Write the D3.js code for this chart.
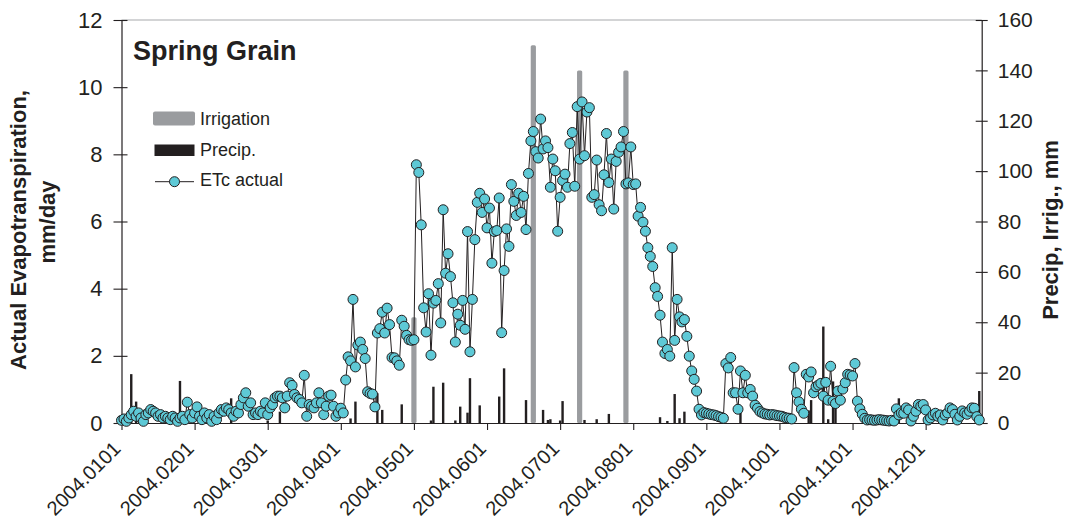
<!DOCTYPE html>
<html>
<head>
<meta charset="utf-8">
<script src="https://cdn.jsdelivr.net/npm/d3@7"></script>
<style>
  html, body { margin: 0; padding: 0; background: #ffffff; }
  svg { display: block; }
  text { font-family: "Liberation Sans", Arial, Helvetica, sans-serif; fill: #231f20; }
</style>
</head>
<body>
<svg id="chart" width="1065" height="529"></svg>
<script>
// Month labels placed every 30 daily records along the bottom axis
const monthLabels = ["2004.0101", "2004.0201", "2004.0301", "2004.0401", "2004.0501", "2004.0601",
                     "2004.0701", "2004.0801", "2004.0901", "2004.1001", "2004.1101", "2004.1201"];
const monthTickIndex = [0, 30, 60, 90, 120, 150, 180, 210, 240, 270, 300, 330];

// Daily actual crop evapotranspiration (mm/day), one value per record
const etcActual = [
  0.08, 0.12, 0.05, 0.15, 0.25, 0.35, 0.2, 0.3, 0.15, 0.05,
  0.25, 0.3, 0.4, 0.35, 0.3, 0.2, 0.25, 0.15, 0.2, 0.15,
  0.1, 0.2, 0.15, 0.05, 0.15, 0.2, 0.1, 0.62, 0.25, 0.15,
  0.3, 0.48, 0.2, 0.1, 0.3, 0.15, 0.25, 0.05, 0.2, 0.1,
  0.3, 0.4, 0.35, 0.45, 0.4, 0.3, 0.2, 0.35, 0.3, 0.55,
  0.75, 0.9, 0.5, 0.6, 0.25, 0.3, 0.25, 0.35, 0.3, 0.6,
  0.25, 0.45, 0.55, 0.75, 0.8, 0.8, 0.75, 0.45, 0.8, 1.2,
  1.12, 0.85, 0.75, 0.7, 0.6, 1.42, 0.2, 0.55, 0.5, 0.45,
  0.6, 0.9, 0.6, 0.25, 0.5, 0.8, 0.83, 0.5, 0.2, 0.3,
  0.44, 0.3, 1.28, 1.97, 1.85, 3.68, 1.67, 2.32, 2.41, 2.19,
  1.92, 0.93, 0.88, 0.86, 0.48, 2.68, 2.81, 3.3, 2.68, 3.42,
  2.93, 1.95, 1.94, 1.85, 1.72, 3.06, 2.88, 2.61, 2.48, 2.46,
  2.48, 7.69, 7.46, 5.9, 3.43, 2.71, 3.85, 2.02, 3.57, 3.65,
  4.15, 2.98, 6.35, 4.46, 5.04, 4.36, 3.58, 2.41, 3.24, 2.91,
  3.65, 2.79, 5.7, 2.12, 3.68, 5.46, 6.57, 6.84, 6.27, 6.67,
  5.81, 6.4, 4.76, 5.7, 5.73, 6.7, 2.69, 4.54, 5.78, 5.26,
  7.1, 6.6, 6.18, 6.84, 6.27, 6.75, 5.76, 7.43, 8.4, 8.68,
  8.08, 7.89, 9.05, 8.16, 8.4, 8.2, 7.02, 7.86, 7.51, 5.71,
  6.72, 7.22, 7.41, 7.02, 8.32, 8.65, 7.05, 9.42, 7.86, 9.56,
  7.96, 9.26, 9.39, 6.72, 6.8, 7.83, 6.5, 6.32, 7.39, 8.62,
  7.16, 7.86, 6.37, 7.79, 8.06, 8.22, 8.68, 7.12, 7.15, 8.22,
  7.1, 7.12, 6.16, 6.42, 5.98, 5.71, 5.22, 4.96, 4.66, 4.03,
  3.77, 3.21, 2.41, 2.07, 2.19, 1.99, 5.22, 2.46, 3.68, 3.16,
  3.01, 3.08, 2.58, 1.99, 1.55, 1.3, 0.95, 0.41, 0.24, 0.31,
  0.29, 0.27, 0.25, 0.24, 0.22, 0.19, 0.17, 0.14, 1.77, 1.64,
  1.95, 0.9, 0.9, 0.41, 1.55, 0.9, 1.42, 0.9, 1.0, 0.8,
  0.53, 0.44, 0.34, 0.3, 0.27, 0.26, 0.24, 0.25, 0.24, 0.22,
  0.21, 0.2, 0.17, 0.15, 0.14, 0.12, 1.65, 0.9, 0.63, 0.41,
  0.29, 1.45, 1.37, 1.52, 0.9, 1.08, 1.13, 1.18, 0.8, 1.21,
  0.68, 1.69, 0.65, 0.58, 0.95, 0.68, 1.01, 1.2, 1.45, 1.43,
  1.4, 1.77, 0.65, 0.42, 0.26, 0.14, 0.09, 0.1, 0.09, 0.08,
  0.09, 0.1, 0.09, 0.08, 0.07, 0.06, 0.08, 0.06, 0.42, 0.24,
  0.3, 0.29, 0.45, 0.39, 0.06, 0.2, 0.35, 0.55, 0.5, 0.55,
  0.39, 0.09, 0.15, 0.24, 0.29, 0.2, 0.24, 0.09, 0.24, 0.3,
  0.45, 0.4, 0.26, 0.09, 0.2, 0.36, 0.3, 0.26, 0.35, 0.45,
  0.44, 0.19, 0.09
];

// Precipitation events: record index and depth (mm)
const precipDay = [4, 6, 24, 45, 60, 65, 94, 96, 105, 107, 115, 127, 128, 132, 137, 139, 142, 143, 147,
                   155, 157, 166, 173, 175, 176, 180, 181, 190, 195, 200, 221, 224, 227, 229, 231, 254,
                   282, 283, 288, 290, 292, 293, 319, 352];
const precipMm  = [19.4, 8.5, 16.7, 9.8, 1.0, 4.5, 1.8, 8.5, 11.8, 5.2, 7.4, 1.0, 14.4, 16.0, 1.0, 6.5, 4.1, 17.8, 7.0,
                   10.5, 21.7, 9.1, 5.2, 1.2, 1.5, 1.0, 8.7, 1.2, 1.5, 3.6, 2.3, 0.8, 11.5, 1.9, 4.5, 6.5,
                   5.0, 9.1, 38.3, 1.5, 16.5, 8.0, 9.8, 12.7];

// Irrigation applications: record index and depth (mm)
const irrigDay = [120, 169, 188, 207];
const irrigMm  = [42, 150, 140, 140];

const etTicks = [0, 2, 4, 6, 8, 10, 12];
const depthTicks = [0, 20, 40, 60, 80, 100, 120, 140, 160];

const ink = "#231f20";
const cyan = "#5ec9d6";
const irrigGray = "#9a9c9f";
const markerR = 5;

const svg = d3.select("#chart");
svg.append("rect").attr("width", 1065).attr("height", 529).attr("fill", "#ffffff");

const plotLeft = 121.5, plotRight = 981.7, plotTop = 20, plotBottom = 423;
const x = d3.scaleLinear().domain([0, 353]).range([plotLeft, plotRight]);
const yET = d3.scaleLinear().domain([0, 12]).range([plotBottom, plotTop]);
const yMM = d3.scaleLinear().domain([0, 160]).range([plotBottom, plotTop]);

// top frame line
svg.append("line")
  .attr("x1", plotLeft).attr("x2", plotRight).attr("y1", plotTop).attr("y2", plotTop)
  .attr("stroke", "#a7a9ac").attr("stroke-width", 1);

// irrigation bars
svg.append("g").selectAll("rect")
  .data(irrigDay.map((d, i) => ({ day: d, mm: irrigMm[i] })))
  .join("rect")
  .attr("x", d => x(d.day) - 2.6)
  .attr("width", 5.2)
  .attr("y", d => yMM(d.mm))
  .attr("height", d => yMM(0) - yMM(d.mm))
  .attr("rx", 1.5)
  .attr("fill", irrigGray);

// precipitation bars
svg.append("g").selectAll("rect")
  .data(precipDay.map((d, i) => ({ day: d, mm: precipMm[i] })))
  .join("rect")
  .attr("x", d => x(d.day) - 1.2)
  .attr("width", 2.4)
  .attr("y", d => yMM(d.mm))
  .attr("height", d => yMM(0) - yMM(d.mm))
  .attr("fill", ink);

// left axis with crossing ticks
const gL = svg.append("g").attr("transform", `translate(${plotLeft},0)`)
  .call(d3.axisLeft(yET).tickValues(etTicks).tickSizeInner(8).tickSizeOuter(0).tickPadding(11));
gL.select(".domain").attr("stroke", ink).attr("stroke-width", 1.2);
gL.selectAll(".tick line").attr("x1", 6).attr("stroke", ink).attr("stroke-width", 1.1);
gL.selectAll(".tick text").attr("font-size", 22).attr("fill", ink)
  .attr("font-family", "Liberation Sans, Arial, sans-serif");

// right axis with crossing ticks
const gR = svg.append("g").attr("transform", `translate(${plotRight},0)`)
  .call(d3.axisRight(yMM).tickValues(depthTicks).tickSizeInner(6).tickSizeOuter(0).tickPadding(10));
gR.select(".domain").attr("stroke", ink).attr("stroke-width", 1.2);
gR.selectAll(".tick line").attr("x1", -6).attr("stroke", ink).attr("stroke-width", 1.1);
gR.selectAll(".tick text").attr("font-size", 21).attr("fill", ink)
  .attr("font-family", "Liberation Sans, Arial, sans-serif");

// bottom axis: month ticks with slanted labels
const gB = svg.append("g").attr("transform", `translate(0,${plotBottom})`)
  .call(d3.axisBottom(x).tickValues(monthTickIndex).tickSizeInner(7).tickSizeOuter(0)
    .tickFormat((d, i) => monthLabels[i]));
gB.select(".domain").attr("stroke", ink).attr("stroke-width", 1.2);
gB.selectAll(".tick line").attr("stroke", ink).attr("stroke-width", 1.1);
gB.selectAll(".tick text")
  .attr("font-size", 20).attr("fill", ink)
  .attr("font-family", "Liberation Sans, Arial, sans-serif")
  .attr("text-anchor", "end")
  .attr("y", 0).attr("dy", "0.35em")
  .attr("transform", "translate(-5,22) rotate(-45)");

// ETc line and markers
const line = d3.line().x((d, i) => x(i)).y(d => yET(d));
svg.append("path").datum(etcActual)
  .attr("d", line).attr("fill", "none").attr("stroke", ink).attr("stroke-width", 1);
svg.append("g").selectAll("circle")
  .data(etcActual).join("circle")
  .attr("cx", (d, i) => x(i)).attr("cy", d => yET(d)).attr("r", markerR)
  .attr("fill", cyan).attr("stroke", ink).attr("stroke-width", 1);

// title
svg.append("text").attr("x", 133).attr("y", 60)
  .attr("font-size", 27).attr("font-weight", "bold").text("Spring Grain");

// legend
const lg = svg.append("g");
lg.append("rect").attr("x", 153).attr("y", 111.5).attr("width", 42).attr("height", 14).attr("rx", 2)
  .attr("fill", irrigGray);
lg.append("rect").attr("x", 154.5).attr("y", 144.5).attr("width", 40).attr("height", 11.5)
  .attr("fill", ink);
lg.append("line").attr("x1", 155).attr("x2", 194).attr("y1", 181.7).attr("y2", 181.7)
  .attr("stroke", ink).attr("stroke-width", 1);
lg.append("circle").attr("cx", 174.5).attr("cy", 181.7).attr("r", markerR)
  .attr("fill", cyan).attr("stroke", ink).attr("stroke-width", 1);
lg.append("text").attr("x", 200).attr("y", 125).attr("font-size", 18).text("Irrigation");
lg.append("text").attr("x", 200).attr("y", 156).attr("font-size", 18).text("Precip.");
lg.append("text").attr("x", 200).attr("y", 186).attr("font-size", 18).text("ETc actual");

// axis titles
svg.append("text")
  .attr("transform", "translate(18,230) rotate(-90)")
  .attr("text-anchor", "middle").attr("dy", "0.35em")
  .attr("font-size", 22).attr("font-weight", "bold")
  .text("Actual Evapotranspiration,");
svg.append("text")
  .attr("transform", "translate(47,222) rotate(-90)")
  .attr("text-anchor", "middle").attr("dy", "0.35em")
  .attr("font-size", 22).attr("font-weight", "bold")
  .text("mm/day");
svg.append("text")
  .attr("transform", "translate(1050,230) rotate(-90)")
  .attr("text-anchor", "middle").attr("dy", "0.35em")
  .attr("font-size", 22).attr("font-weight", "bold")
  .text("Precip, Irrig., mm");
</script>
</body>
</html>
